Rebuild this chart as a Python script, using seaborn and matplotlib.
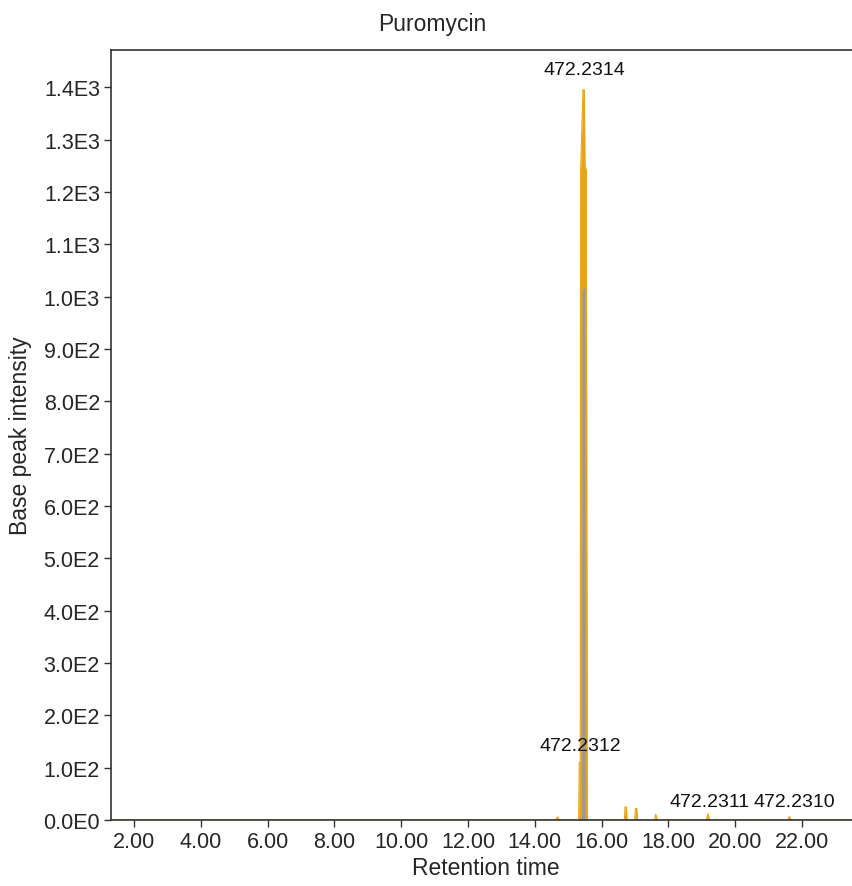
import matplotlib
matplotlib.use("Agg")
import matplotlib.pyplot as plt
import seaborn as sns
import pandas as pd

sns.set_theme(style="white")
plt.rcParams['font.family'] = ['Liberation Sans', 'DejaVu Sans']

# Extracted ion chromatogram (orange trace)
rt_main = [1.30, 14.62, 14.68, 14.74, 15.31, 15.33, 15.36, 15.37, 15.44, 15.48,
           15.50, 15.54, 15.57, 16.68, 16.70, 16.74, 16.76, 16.99, 17.01,
           17.05, 17.07, 17.58, 17.62, 17.66, 19.13, 19.18, 19.23, 21.57, 21.62,
           21.67, 23.70]
int_main = [0, 0, 6, 0, 0, 110, 110, 1240, 1395, 1395,
            1250, 1240, 0, 0, 25, 25, 0, 0, 22,
            22, 0, 0, 11, 0, 0, 12, 0, 0, 7,
            0, 0]

# Overlaid trace (gray)
rt_gray = [15.40, 15.41, 15.49, 15.50]
int_gray = [0, 1010, 1020, 0]

# Peak labels
label_rt = [15.47, 15.37, 19.23, 21.76]
label_y = [1418, 126, 20, 20]
label_txt = ["472.2314", "472.2312", "472.2311", "472.2310"]

x_ticks = [2, 4, 6, 8, 10, 12, 14, 16, 18, 20, 22]
y_ticks = [0, 100, 200, 300, 400, 500, 600, 700, 800, 900, 1000, 1100, 1200, 1300, 1400]
y_tick_labels = ["0.0E0", "1.0E2", "2.0E2", "3.0E2", "4.0E2", "5.0E2", "6.0E2", "7.0E2",
                 "8.0E2", "9.0E2", "1.0E3", "1.1E3", "1.2E3", "1.3E3", "1.4E3"]

df = pd.DataFrame({"rt": rt_main, "intensity": int_main})
dg = pd.DataFrame({"rt": rt_gray, "intensity": int_gray})

orange = "#E8A317"
fig = plt.figure(figsize=(8.52, 8.87), dpi=100)
ax = fig.add_axes([111/852, 66/887, 1 - 111/852 + 0.01, (821-51)/887])

ax.fill_between(df["rt"], df["intensity"], color=orange, linewidth=0)
sns.lineplot(data=df, x="rt", y="intensity", color=orange, linewidth=0.8, ax=ax)
ax.fill_between(dg["rt"], dg["intensity"], color="#999999", linewidth=0)

for x, y, t in zip(label_rt, label_y, label_txt):
    ax.text(x, y, t, ha="center", va="bottom", fontsize=14, color="#111111")

ax.set_xlim(1.31, 23.75)
ax.set_ylim(0, 1471)
ax.set_xticks(x_ticks)
ax.set_xticklabels([f"{v:.2f}" for v in x_ticks], fontsize=15.5)
ax.set_yticks(y_ticks)
ax.set_yticklabels(y_tick_labels, fontsize=15.5)
ax.tick_params(axis="both", direction="out", length=5, width=1, color="#333333",
               bottom=True, left=True, pad=3)
for s in ["left", "top", "right", "bottom"]:
    ax.spines[s].set_color("#333333")
    ax.spines[s].set_linewidth(1.2)
ax.set_xlabel("Retention time", fontsize=16.5, labelpad=3)
ax.set_ylabel("Base peak intensity", fontsize=16.5, labelpad=8)
fig.text(432/852, 1 - 25/887, "Puromycin", ha="center", va="center", fontsize=16.5)

fig.savefig("out.png", dpi=100)
